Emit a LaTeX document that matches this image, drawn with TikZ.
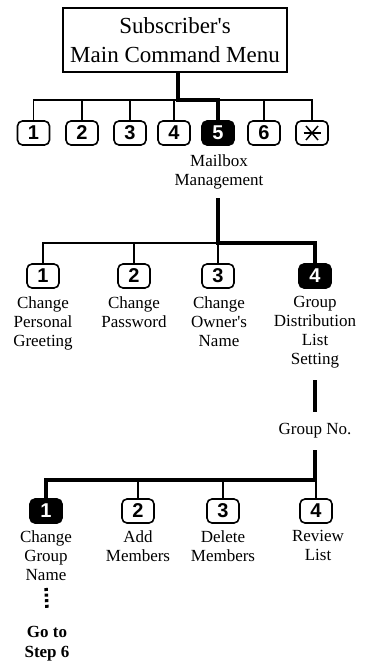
\documentclass[tikz,border=0pt]{standalone}
\usepackage{fontspec}
\setmainfont{Liberation Serif}
\newfontfamily\keyfont{Liberation Sans}
\usetikzlibrary{calc}
\begin{document}
\begin{tikzpicture}[x=1pt,y=-1pt,
  key/.style={draw,line width=1.6pt,rounded corners=5pt,minimum width=32pt,minimum height=24pt,inner sep=0pt,
    font=\keyfont\bfseries\fontsize{20}{20}\selectfont},
  keyon/.style={key,fill=black,text=white},
  lbl/.style={align=center,font=\fontsize{17}{19}\selectfont,inner sep=0pt,anchor=north},
  thinln/.style={line width=1.3pt},
  thickln/.style={line width=4pt},
  dotln/.style={line width=3.5pt,dash pattern=on 3pt off 2.6pt}]

\useasboundingbox (0,0) rectangle (368,664);

% title box
\node[draw,line width=1.1pt,minimum width=224pt,minimum height=64pt,inner sep=0pt,align=center,
  font=\fontsize{23}{29}\selectfont] (menu) at (175,40) {Subscriber\textquotesingle s\\Main Command Menu};

% row 1 keys
\node[key] (k1) at (33.5,133) {1};
\node[key] (k2) at (82,133) {2};
\node[key] (k3) at (130,133) {3};
\node[key] (k4) at (174,133) {4};
\node[keyon] (k5) at (218,133) {5};
\node[key] (k6) at (264,133) {6};
\node[key] (ks) at (312,133) {};
\draw[line width=1.5pt] ($(ks.center)+(-8.5,0)$) -- ($(ks.center)+(8.5,0)$);
\draw[line width=1.5pt] ($(ks.center)+(-6,-7)$) -- ($(ks.center)+(6,7)$);
\draw[line width=1.5pt] ($(ks.center)+(-6,7)$) -- ($(ks.center)+(6,-7)$);

\coordinate (j1) at (178,100);
\draw[thinln] (k1.north) |- (ks.north |- j1) -- (ks.north);
\foreach \k in {k2,k3,k4,k6} \draw[thinln] (\k.north) -- (\k.north |- j1);
\draw[thickln] (menu.south -| j1) -- (j1) -| (k5.north);

\node[lbl] (mm) at (219,155) {Mailbox\\Management};

% row 2
\node[key] (b1) at (43,276) {1};
\node[key] (b2) at (134,276) {2};
\node[key] (b3) at (218,276) {3};
\node[keyon] (b4) at (315,276) {4};
\coordinate (j2) at (218,243);
\draw[thinln] (b1.north) |- (j2);
\draw[thinln] (b2.north) -- (b2.north |- j2);
\draw[thinln] (b3.north) -- (j2);
\draw[thickln] (j2 |- 0,198) -- (j2) -| (b4.north);

\node[lbl] (l1) at (43,296) {Change\\Personal\\Greeting};
\node[lbl] (l2) at (134,296) {Change\\Password};
\node[lbl] (l3) at (219,296) {Change\\Owner\textquotesingle s\\Name};
\node[lbl] (l4) at (315,296) {Group\\Distribution\\List\\Setting};

\node[lbl] (gn) at (315,423) {Group No.};
\draw[thickln] (l4.south |- 0,380) -- (gn.north |- 0,412);

% row 3
\node[keyon] (c1) at (46,511) {1};
\node[key] (c2) at (138,511) {2};
\node[key] (c3) at (223,511) {3};
\node[key] (c4) at (316,511) {4};
\coordinate (j3) at (315,480);
\draw[thickln] (gn.south |- 0,450) -- (j3) -| (c1.north);
\foreach \k in {c2,c3,c4} \draw[thinln] (\k.north) -- (\k.north |- j3);

\node[lbl] (m1) at (46,530) {Change\\Group\\Name};
\node[lbl] (m2) at (138,530) {Add\\Members};
\node[lbl] (m3) at (223,530) {Delete\\Members};
\node[lbl] (m4) at (318,530) {Review\\List};

\node[lbl,font=\bfseries\fontsize{17}{20}\selectfont] (go) at (47,626) {Go to\\Step 6};
\draw[dotln] (m1.south |- 0,588) -- (go.north |- 0,608.5);
\end{tikzpicture}
\end{document}
